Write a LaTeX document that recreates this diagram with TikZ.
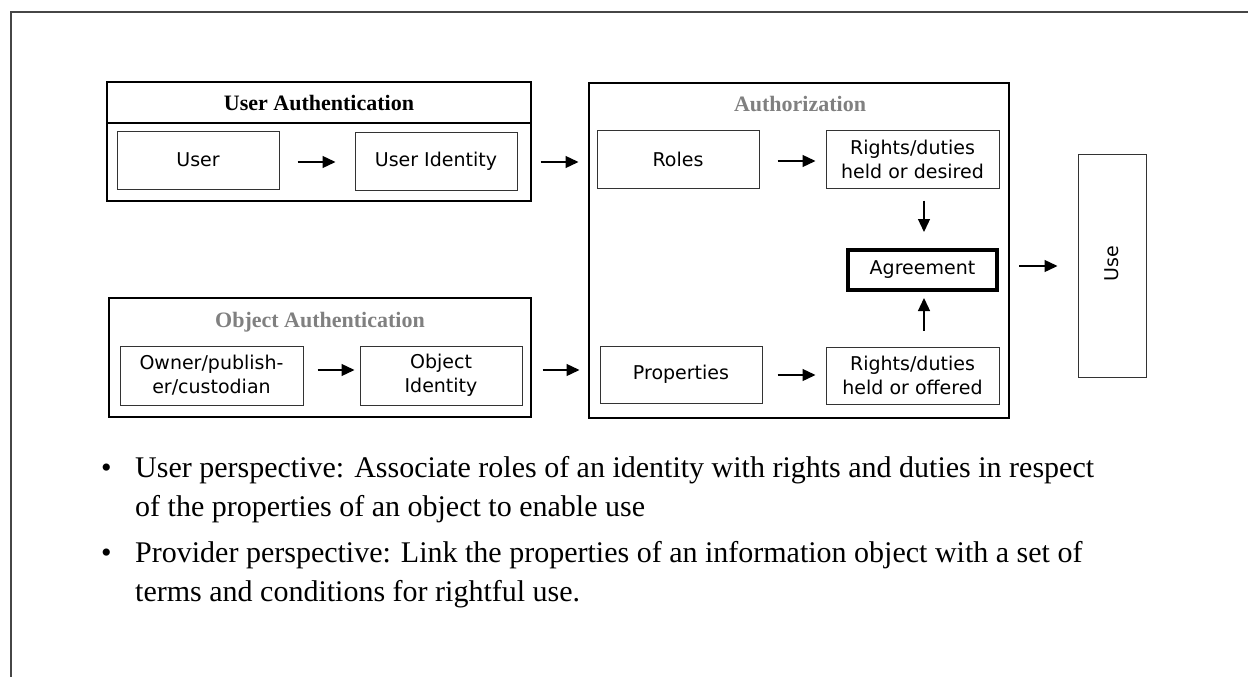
\documentclass[tikz,border=0pt]{standalone}
\usepackage{fontspec}
\setmainfont{Liberation Serif}
\newfontfamily\boxfont{DejaVu Sans}
\usetikzlibrary{arrows.meta}
\definecolor{titlegray}{RGB}{128,128,128}
\definecolor{framegray}{RGB}{70,70,70}
\tikzset{
  box/.style={draw=black!80, line width=1pt, fill=white, inner sep=0pt, align=center,
    font=\boxfont\fontsize{19}{24}\selectfont},
  group/.style={draw=black, line width=1.5pt},
  title/.style={font=\bfseries\fontsize{22}{26}\selectfont, inner sep=0pt},
  arr/.style={line width=1.3pt, -{Triangle[length=13pt,width=12pt]}},
  bullettext/.style={font=\fontsize{30}{39}\selectfont, anchor=base west, inner sep=0pt}
}
\begin{document}
\begin{tikzpicture}[x=1pt,y=-1pt]
\useasboundingbox (0,0) rectangle (1248,677);
% frame
\draw[line width=2pt, framegray] (11,677) -- (11,12) -- (1248,12);

% User Authentication
\draw[line width=2.2pt] (107,82) rectangle (531,201);
\draw[line width=1.5pt] (107,123) -- (531,123);
\node[title] (uatitle) at (319,103) {User Authentication};
\node[box, minimum width=162pt, minimum height=58pt] (user) at (198,160) {User};
\node[box, minimum width=162pt, minimum height=58pt] (uid) at (436,161) {User Identity};

% Object Authentication
\draw[group] (109,298) rectangle (531,417);
\node[title, text=titlegray] (oatitle) at (320,322) {Object Authentication};
\node[box, minimum width=183pt, minimum height=59pt] (owner) at (211.5,375.5) {Owner/publish-\\er/custodian};
\node[box, minimum width=162pt, minimum height=59pt] (oid) at (441,375.5) {Object\\Identity};

% Authorization
\draw[group] (589,83) rectangle (1009,418);
\node[title, text=titlegray] (autitle) at (800,104) {Authorization};
\node[box, minimum width=162pt, minimum height=58pt] (roles) at (678,159) {Roles};
\node[box, minimum width=173pt, minimum height=58pt] (rdes) at (912.5,159) {Rights/duties\\held or desired};
\node[box, draw=black, line width=4pt, minimum width=149pt, minimum height=40pt] (agr) at (922.5,270) {Agreement};
\node[box, minimum width=162pt, minimum height=57pt] (props) at (681,374.5) {Properties};
\node[box, minimum width=173pt, minimum height=57pt] (roff) at (912.5,375.5) {Rights/duties\\held or offered};

% Use
\node[box, minimum width=68pt, minimum height=223pt] (use) at (1112,265.5) {};
\node[font=\boxfont\fontsize{19}{24}\selectfont, rotate=90, inner sep=0pt] (usetext) at (1112,264) {Use};

% arrows
\draw[arr, shorten <=18pt, shorten >=19pt] (user.east |- 0,162) coordinate (a1) -- (uid.west |- a1);
\draw[arr, shorten <=23pt, shorten >=18pt] (uid.east |- 0,162) coordinate (a2) -- (roles.west |- a2);
\draw[arr, shorten <=18pt, shorten >=10pt] (roles.east |- 0,161) coordinate (a3) -- (rdes.west |- a3);
\draw[arr, shorten <=12pt, shorten >=16pt] (rdes.south -| 924,0) coordinate (a4) -- (agr.north -| a4);
\draw[arr, shorten <=16pt, shorten >=6pt] (roff.north -| 924,0) coordinate (a5) -- (agr.south -| a5);
\draw[arr, shorten <=15pt, shorten >=10pt] (props.east |- 0,375) coordinate (a6) -- (roff.west |- a6);
\draw[arr, shorten <=14pt, shorten >=5pt] (owner.east |- 0,370) coordinate (a7) -- (oid.west |- a7);
\draw[arr, shorten <=20pt, shorten >=20pt] (oid.east |- 0,370) coordinate (a8) -- (props.west |- a8);
\draw[arr, shorten <=20pt, shorten >=20pt] (agr.east |- 0,266) coordinate (a9) -- (use.west |- a9);

% bullets
\node[bullettext] (b1) at (101,477) {•};
\node[bullettext] (t1a) at (135,477) {User perspective: Associate roles of an identity with rights and duties in respect};
\node[bullettext] (t1b) at (135,516) {of the properties of an object to enable use};
\node[bullettext] (b2) at (101,562) {•};
\node[bullettext] (t2a) at (135,562) {Provider perspective: Link the properties of an information object with a set of};
\node[bullettext] (t2b) at (135,601) {terms and conditions for rightful use.};
\end{tikzpicture}
\end{document}
